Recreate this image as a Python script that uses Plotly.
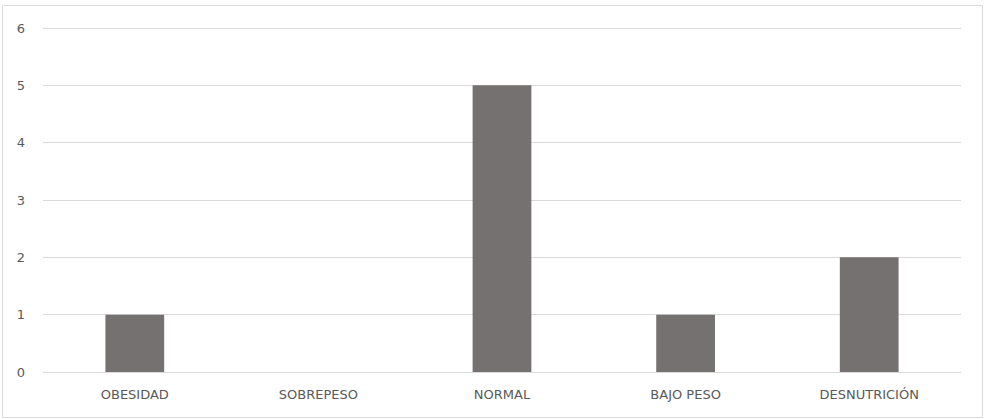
import plotly.graph_objects as go

categories = ["OBESIDAD", "SOBREPESO", "NORMAL", "BAJO PESO", "DESNUTRICIÓN"]
values = [1, 0, 5, 1, 2]
y_ticks = [0, 1, 2, 3, 4, 5, 6]

L, R, T, B = 43, 23, 26, 47
W, H = 984, 419
pw, ph = W - L - R, H - T - B

def px_to_paper_x(px):
    return (px - L) / pw

def px_to_paper_y(py):
    return (H - B - py) / ph

fig = go.Figure(go.Bar(
    x=categories, y=values,
    marker=dict(color="#767171", line=dict(width=0)),
    width=0.32,
))

fig.update_layout(
    width=W, height=H,
    margin=dict(l=L, r=R, t=T, b=B),
    plot_bgcolor="white", paper_bgcolor="white",
    showlegend=False,
    font=dict(family="DejaVu Sans, sans-serif", size=13, color="#595959"),
    xaxis=dict(showgrid=False, showline=False, ticks="", ticklabelstandoff=13,
               tickfont=dict(size=13, color="#595959")),
    yaxis=dict(range=[0, 6.035], tickvals=y_ticks, showgrid=True, gridcolor="#d9d9d9", gridwidth=1,
               zeroline=True, zerolinecolor="#d9d9d9", zerolinewidth=1,
               showline=False, ticks="", ticklabelstandoff=17, tickfont=dict(size=13, color="#595959")),
    shapes=[dict(type="rect", xref="paper", yref="paper",
                 x0=px_to_paper_x(2.5), x1=px_to_paper_x(982.5),
                 y0=px_to_paper_y(417.5), y1=px_to_paper_y(5.5),
                 line=dict(color="#d9d9d9", width=1), layer="below")],
)

fig.write_html("out.html", config={"displayModeBar": False},
               post_script="document.body.style.margin='0';document.body.style.overflow='hidden';")
